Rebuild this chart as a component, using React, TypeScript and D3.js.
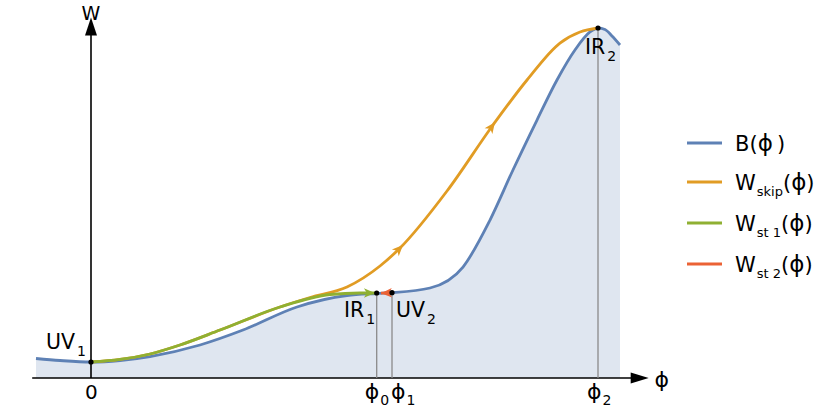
import React, { useEffect, useRef } from 'react';
import * as d3 from 'd3';

// ---------- data (ϕ in units of ϕ2, W in units of W(IR2)) ----------
const phiB = [-0.1085, -0.0611, 0, 0.0572, 0.1164, 0.215, 0.2998, 0.4063, 0.5049, 0.5635, 0.5937, 0.6686, 0.7337, 0.787, 0.8323, 0.8797, 0.9191, 0.9546, 0.9842, 1.0, 1.0138, 1.0276, 1.0434];
const valB = [0.0557, 0.05, 0.0457, 0.05, 0.0614, 0.0943, 0.137, 0.2029, 0.2357, 0.2414, 0.2437, 0.2571, 0.3171, 0.4514, 0.5943, 0.7371, 0.8514, 0.9371, 0.9886, 1.0, 0.9957, 0.9771, 0.9514];

const phiSt1 = [0, 0.0572, 0.1164, 0.1755, 0.2544, 0.3728, 0.4714, 0.5306, 0.5635];
const valSt1 = [0.0457, 0.0529, 0.0686, 0.0943, 0.137, 0.2029, 0.2386, 0.2429, 0.2429];

const phiSkip = [0, 0.0572, 0.1164, 0.1755, 0.2544, 0.3728, 0.432, 0.5049, 0.57, 0.6095, 0.7022, 0.7929, 0.86, 0.925, 0.9645, 1.0];
const valSkip = [0.0457, 0.0529, 0.0686, 0.0943, 0.137, 0.2029, 0.23, 0.26, 0.32, 0.3714, 0.5343, 0.7229, 0.8514, 0.957, 0.9886, 1.0];

const phiSt2 = [0.572, 0.5937];
const valSt2 = [0.2425, 0.2437];

// fixed points
const pointNames = ['UV', 'IR', 'UV', 'IR'];
const pointSubs = ['1', '1', '2', '2'];
const pointPhi = [0, 0.5635, 0.5937, 1.0];
const pointW = [0.0457, 0.2429, 0.2437, 1.0];

// tick labels
const tickPhi = [0, 0.5635, 0.5937, 1.0];
const tickMain = ['0', 'ϕ', 'ϕ', 'ϕ'];
const tickSub = ['', '0', '1', '2'];

// arrowheads on W_skip (tip positions in ϕ)
const skipArrowPhi = [0.6154, 0.7968];
const st1ArrowPhi = 0.56;

// legend
const legendMain = ['B', 'W', 'W', 'W'];
const legendSub = ['', 'skip', 'st 1', 'st 2'];
const colors = ['#5e81b5', '#e19c24', '#8fb032', '#eb6235'];

// axis extents (ϕ, W units)
const axisPhi: [number, number] = [-0.116, 1.1];
const axisW: [number, number] = [0, 1.03];

const FONT = 'DejaVu Sans, sans-serif';

export default function App() {
  const ref = useRef<SVGSVGElement>(null);
  useEffect(() => {
    const svg = d3.select(ref.current);
    svg.selectAll('*').remove();
    const x = d3.scaleLinear().domain([0, 1]).range([91, 598]);
    const y = d3.scaleLinear().domain([0, 1]).range([378, 28]);

    const zip = (a: number[], b: number[]) => a.map((p, i) => [p, b[i]] as [number, number]);
    const line = d3.line<[number, number]>().x(d => x(d[0])).y(d => y(d[1])).curve(d3.curveMonotoneX);

    // filled area
    const area = d3.area<[number, number]>().x(d => x(d[0])).y0(y(0)).y1(d => y(d[1])).curve(d3.curveMonotoneX);
    svg.append('path').attr('d', area(zip(phiB, valB))).attr('fill', '#5e81b5').attr('fill-opacity', 0.2);

    // axes
    const x0 = x(axisPhi[0]), x1 = x(axisPhi[1]);
    svg.append('line').attr('x1', x0).attr('x2', x1 - 14).attr('y1', y(0)).attr('y2', y(0)).attr('stroke', '#000').attr('stroke-width', 1.6);
    svg.append('path').attr('d', `M${x1},${y(0)} L${x1 - 18},${y(0) - 5.5} L${x1 - 18},${y(0) + 5.5} Z`).attr('fill', '#000');
    const yt = y(axisW[1]);
    svg.append('line').attr('x1', x(0)).attr('x2', x(0)).attr('y1', y(0)).attr('y2', yt + 14).attr('stroke', '#000').attr('stroke-width', 1.6);
    svg.append('path').attr('d', `M${x(0)},${yt} L${x(0) - 6},${yt + 18} L${x(0) + 6},${yt + 18} Z`).attr('fill', '#000');

    // vertical markers
    [1, 2, 3].forEach(i => {
      svg.append('line').attr('x1', x(pointPhi[i])).attr('x2', x(pointPhi[i]))
        .attr('y1', y(pointW[i])).attr('y2', y(0)).attr('stroke', '#8a8a8a').attr('stroke-width', 1.3);
    });

    // curves
    svg.append('path').attr('d', line(zip(phiB, valB))).attr('fill', 'none').attr('stroke', colors[0]).attr('stroke-width', 2.8);
    const pSkip = svg.append('path').attr('d', line(zip(phiSkip, valSkip))).attr('fill', 'none').attr('stroke', colors[1]).attr('stroke-width', 2.8);
    const pSt1 = svg.append('path').attr('d', line(zip(phiSt1, valSt1))).attr('fill', 'none').attr('stroke', colors[2]).attr('stroke-width', 2.8);
    const pSt2 = svg.append('path').attr('d', line(zip(phiSt2, valSt2))).attr('fill', 'none').attr('stroke', colors[3]).attr('stroke-width', 2.8);

    const head = 'M0,0 L-11,-4.8 L-8,0 L-11,4.8 Z';
    const arrowAt = (node: SVGPathElement, tx: number, color: string) => {
      const L = node.getTotalLength();
      let lo = 0, hi = L;
      for (let k = 0; k < 40; k++) {
        const mid = (lo + hi) / 2;
        if (node.getPointAtLength(mid).x < tx) lo = mid; else hi = mid;
      }
      const p = node.getPointAtLength(lo);
      const q = node.getPointAtLength(Math.max(0, lo - 3));
      const ang = Math.atan2(p.y - q.y, p.x - q.x) * 180 / Math.PI;
      svg.append('path').attr('d', head).attr('fill', color).attr('transform', `translate(${p.x},${p.y}) rotate(${ang})`);
    };
    skipArrowPhi.forEach(ph => arrowAt(pSkip.node() as SVGPathElement, x(ph), colors[1]));
    arrowAt(pSt1.node() as SVGPathElement, x(st1ArrowPhi), colors[2]);
    {
      const node = pSt2.node() as SVGPathElement;
      const p = node.getPointAtLength(0);
      const q = node.getPointAtLength(3);
      const ang = Math.atan2(p.y - q.y, p.x - q.x) * 180 / Math.PI;
      svg.append('path').attr('d', head).attr('fill', colors[3]).attr('transform', `translate(${p.x},${p.y}) rotate(${ang})`);
    }

    // points
    pointPhi.forEach((ph, i) => {
      svg.append('circle').attr('cx', x(ph)).attr('cy', y(pointW[i])).attr('r', 2.6).attr('fill', '#000');
    });

    // point labels
    const labelPos: [number, number][] = [[46, 349], [344, 317], [396, 317], [585, 54]];
    pointNames.forEach((nm, i) => {
      const t = svg.append('text').attr('x', labelPos[i][0]).attr('y', labelPos[i][1])
        .attr('font-family', FONT).attr('font-size', 20.5).attr('fill', '#000');
      t.append('tspan').text(nm);
      t.append('tspan').attr('dx', 2).attr('dy', 7).attr('font-size', 14).text(pointSubs[i]);
    });

    // axis labels
    svg.append('text').attr('x', x(0)).attr('y', 20).attr('text-anchor', 'middle')
      .attr('font-family', FONT).attr('font-size', 19).text('W');
    svg.append('text').attr('x', x1 + 13).attr('y', 387).attr('text-anchor', 'middle')
      .attr('font-family', FONT).attr('font-size', 22).text('ϕ');

    // tick labels (anchored at start; offsets relative to tick)
    const tickShift = [-6, -12, -1, -11];
    tickPhi.forEach((ph, i) => {
      const t = svg.append('text').attr('x', x(ph) + tickShift[i]).attr('y', 399)
        .attr('font-family', FONT).attr('font-size', i === 0 ? 20 : 22).attr('fill', '#000');
      t.append('tspan').text(tickMain[i]);
      if (tickSub[i]) t.append('tspan').attr('dx', 1).attr('dy', 6).attr('font-size', 14).text(tickSub[i]);
    });

    // legend
    const legY = [143, 182, 223, 264];
    legendMain.forEach((m, i) => {
      svg.append('line').attr('x1', 687).attr('x2', 722).attr('y1', legY[i]).attr('y2', legY[i])
        .attr('stroke', colors[i]).attr('stroke-width', 2.8);
      const t = svg.append('text').attr('x', 735).attr('y', legY[i] + 8)
        .attr('font-family', FONT).attr('font-size', 21).attr('fill', '#000');
      t.append('tspan').text(m);
      if (legendSub[i]) {
        t.append('tspan').attr('dx', 1).attr('dy', 6).attr('font-size', 13).text(legendSub[i]);
        t.append('tspan').attr('dy', -6).text('(');
      } else {
        t.append('tspan').text('(');
      }
      t.append('tspan').attr('font-size', 23).text('ϕ');
      t.append('tspan').text(legendSub[i] ? ')' : '\u2009)');
    });
  }, []);
  return <svg ref={ref} width={830} height={410} style={{ position: 'absolute', left: 0, top: 0, background: '#fff' }} />;
}
